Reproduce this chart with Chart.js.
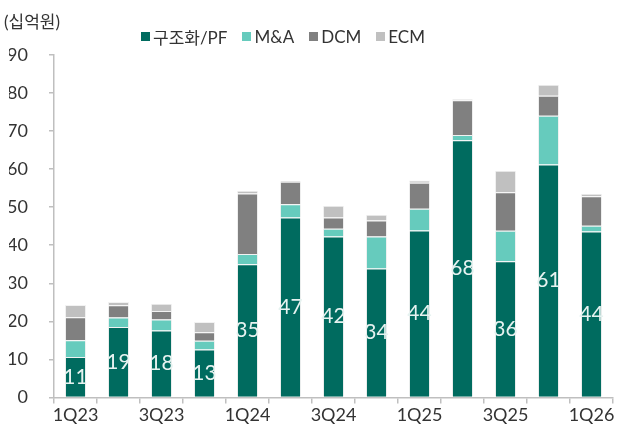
<!DOCTYPE html>
<html>
<head>
<meta charset="utf-8">
<script src="https://cdn.jsdelivr.net/npm/chart.js@4"></script>
<style>
  body { margin: 0; background: #fff; }
  #wrap { position: relative; width: 617px; height: 434px; font-family: 'Lato', 'Noto Sans CJK KR', sans-serif; color: #333; }
  #unit { position: absolute; left: 4px; top: 8px; font-size: 17px; }
  #legend { position: absolute; left: 141px; top: 24px; display: flex; font-size: 17px; }
  #legend span { display: flex; align-items: center; margin-right: 15px; }
  #legend i { display: inline-block; width: 9px; height: 9px; margin-right: 3px; }
</style>
</head>
<body>
<div id="wrap">
  <canvas id="chart" width="617" height="434"></canvas>
  <div id="unit">(십억원)</div>
  <div id="legend"></div>
</div>
<script>
const labels = ['1Q23','2Q23','3Q23','4Q23','1Q24','2Q24','3Q24','4Q24','1Q25','2Q25','3Q25','4Q25','1Q26'];
const structured = [10.6, 18.5, 17.6, 12.6, 35.0, 47.3, 42.3, 33.9, 43.9, 67.6, 35.8, 61.2, 43.6];
const mna = [4.4, 2.5, 2.9, 2.3, 2.7, 3.5, 2.0, 8.4, 5.7, 1.4, 8.0, 12.8, 1.5];
const dcm = [6.1, 3.2, 2.2, 2.2, 15.9, 5.9, 3.0, 4.2, 6.8, 9.1, 10.1, 5.3, 7.8];
const ecm = [3.2, 0.9, 1.9, 2.7, 0.7, 0.2, 3.1, 1.5, 0.6, 0.3, 5.7, 2.9, 0.6];

const names = ['구조화/PF', 'M&A', 'DCM', 'ECM'];
const colors = ['#006b5f', '#66cbbd', '#808080', '#c0c0c0'];
const series = [structured, mna, dcm, ecm];

const legend = document.getElementById('legend');
names.forEach((n, i) => {
    legend.innerHTML += '<span><i style="background:' + colors[i] + '"></i>' + n + '</span>';
});

// 구조화/PF 값 막대 안에 표시
const barLabels = {
    id: 'barLabels',
    afterDatasetsDraw(chart) {
        const ctx = chart.ctx;
        const meta = chart.getDatasetMeta(0);
        ctx.save();
        ctx.font = '21px Lato, sans-serif';
        ctx.fillStyle = '#e6f2f0';
        ctx.textAlign = 'center';
        ctx.textBaseline = 'middle';
        meta.data.forEach((bar, i) => {
            const y = (bar.y + bar.base) / 2;
            ctx.fillText(Math.round(structured[i]), bar.x, y);
        });
        ctx.restore();
    }
};

new Chart(document.getElementById('chart'), {
    type: 'bar',
    data: {
        labels: labels,
        datasets: series.map((d, i) => ({
            label: names[i],
            data: d,
            backgroundColor: colors[i],
            borderColor: '#f2f2f2',
            borderWidth: 1,
            barPercentage: 0.49,
            categoryPercentage: 1
        }))
    },
    options: {
        responsive: false,
        animation: false,
        layout: { padding: { top: 55, left: 9, right: 4, bottom: 7 } },
        plugins: {
            legend: { display: false },
            tooltip: { enabled: false }
        },
        scales: {
            x: {
                stacked: true,
                grid: { drawOnChartArea: false, tickLength: 6, color: '#bfbfbf', lineWidth: 1.5 },
                border: { color: '#bfbfbf', width: 1.5 },
                ticks: {
                    autoSkip: false,
                    maxRotation: 0,
                    padding: 1,
                    color: '#333',
                    font: { family: 'Lato, sans-serif', size: 18 },
                    callback: (v, i) => i % 2 === 0 ? labels[i] : ''
                }
            },
            y: {
                stacked: true,
                min: 0,
                max: 90,
                afterFit: (s) => { s.width = 45; },
                grid: { drawOnChartArea: false, tickLength: 5, color: '#bfbfbf', lineWidth: 1.5 },
                border: { color: '#bfbfbf', width: 1.5 },
                ticks: {
                    stepSize: 10,
                    padding: 21,
                    color: '#333',
                    font: { family: 'Lato, sans-serif', size: 18 }
                }
            }
        }
    },
    plugins: [barLabels]
});
</script>
</body>
</html>
